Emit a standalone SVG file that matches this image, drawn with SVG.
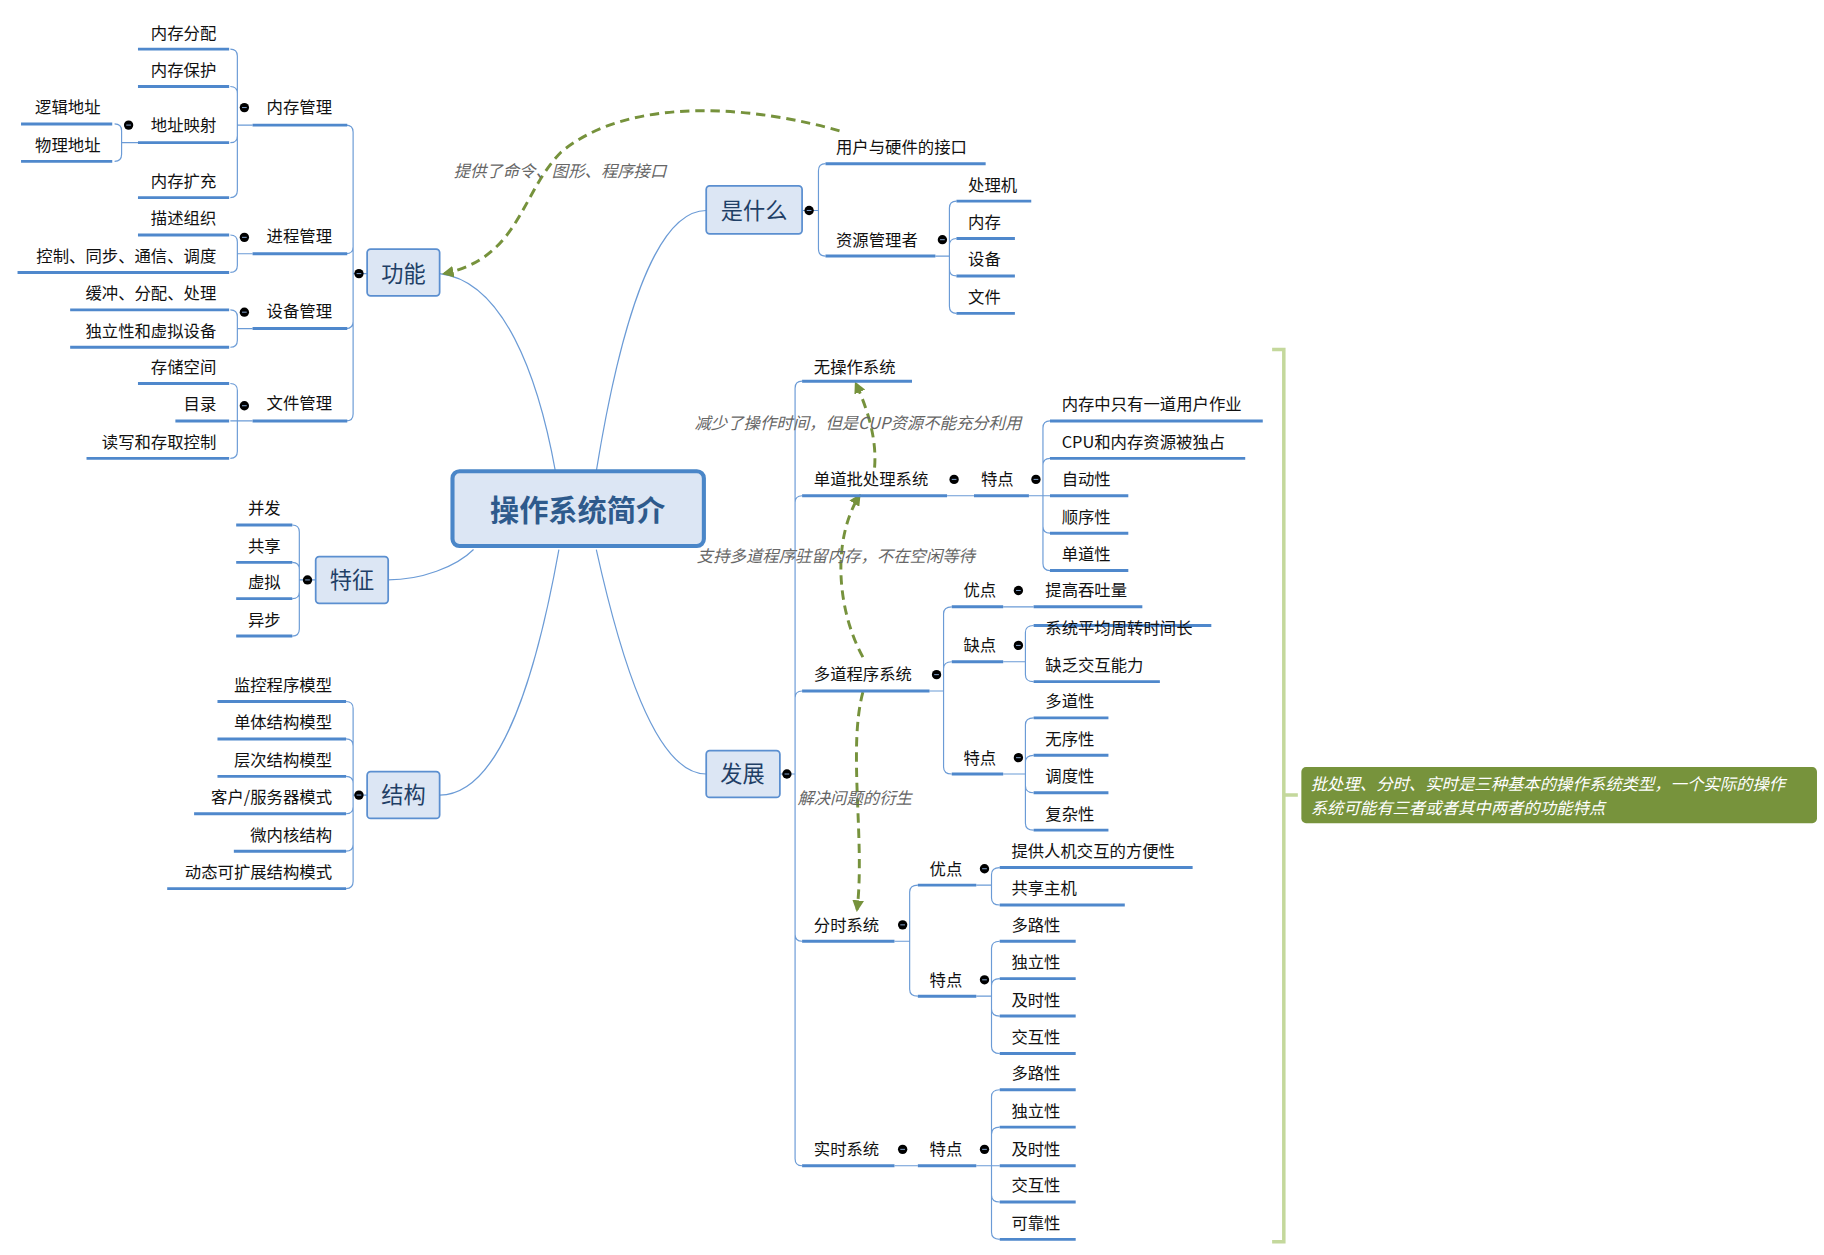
<svg xmlns="http://www.w3.org/2000/svg" width="1824" height="1255" viewBox="0 0 1824 1255">
<defs>
<style>
.c{fill:none;stroke:#6b9bd6;stroke-width:1}
.u{stroke:#4f88cc;stroke-width:2.5}
.t{font-family:"Noto Sans CJK SC","Noto Sans",sans-serif;font-size:14px;fill:#111}
.r{text-anchor:end}
.b rect{fill:#dce6f4;stroke:#5b8fd0;stroke-width:1.5}
.b text{font-family:"Noto Sans CJK SC",sans-serif;font-size:19px;fill:#1f3f66;text-anchor:middle}
.o circle{fill:#fff;stroke:#8fb0dc;stroke-width:0.8}
.d{fill:none;stroke:#76923c;stroke-width:2.5;stroke-dasharray:8,5}
.l{font-family:"Noto Sans CJK SC",sans-serif;font-size:14px;fill:#666;font-style:italic}
</style>
<marker id="a" viewBox="0 0 10 10" refX="8" refY="5" markerWidth="4" markerHeight="4" orient="auto"><path d="M0,0 L10,5 L0,10 z" fill="#76923c"/></marker>
<g id="m"><circle r="4"/><line x1="-2" x2="2" stroke="#8fb0dc" stroke-width="0.8"/></g>
</defs>
<rect width="1824" height="1255" fill="#fff"/>
<g transform="scale(1.16923)">
<g id="connectors" class="c">
<path d="M475,403 C460,320 430,240 376,234"/>
<path d="M510,403 C530,280 560,180 604,180"/>
<path d="M405,470 C390,485 360,496 332,496"/>
<path d="M478,470 C460,570 430,680 376,680"/>
<path d="M510,470 C530,560 560,662 604,662"/>
<path d="M314,234 H302 V113 Q302,107 296,107 M302,234 V211 Q302,217 296,217 M302,234 V275 Q302,281 296,281 M302,234 V354 Q302,360 296,360"/>
<path d="M216,107 H203 V48 Q203,42 197,42 M203,107 V80 Q203,74 197,74 M203,107 V116 Q203,122 197,122 M203,107 V163 Q203,169 197,169"/>
<path d="M118,122 H104 V112 Q104,106 98,106 M104,122 V132 Q104,138 98,138"/>
<path d="M216,217 H203 V207 Q203,201 197,201 M203,217 V227 Q203,233 197,233"/>
<path d="M216,281 H203 V271 Q203,265 197,265 M203,281 V291 Q203,297 197,297"/>
<path d="M216,360 H197 M203,360 V334 Q203,328 197,328 M203,360 V386 Q203,392 197,392"/>
<path d="M270,496 H256 V455 Q256,449 250,449 M256,496 V487 Q256,481 250,481 M256,496 V506 Q256,512 250,512 M256,496 V538 Q256,544 250,544"/>
<path d="M314,680 H302 V606 Q302,600 296,600 M302,680 V638 Q302,632 296,632 M302,680 V670 Q302,664 296,664 M302,680 V690 Q302,696 296,696 M302,680 V722 Q302,728 296,728 M302,680 V754 Q302,760 296,760"/>
<path d="M686,180 H700 V146 Q700,140 706,140 M700,180 V213 Q700,219 706,219"/>
<path d="M800,219 H812 V178 Q812,172 818,172 M812,219 V210 Q812,204 818,204 M812,219 V230 Q812,236 818,236 M812,219 V262 Q812,268 818,268"/>
<path d="M667,662 H680 V332 Q680,326 686,326 M680,662 V430 Q680,424 686,424 M680,662 V597 Q680,591 686,591 M680,662 V799 Q680,805 686,805 M680,662 V991 Q680,997 686,997"/>
<path d="M810,424 H833 M880,424 H898 M892,424 V366 Q892,360 898,360 M892,424 V398 Q892,392 898,392 M892,424 V450 Q892,456 898,456 M892,424 V482 Q892,488 898,488"/>
<path d="M795,591 H807 V525 Q807,519 814,519 M807,591 V572 Q807,566 814,566 M807,591 V656 Q807,662 814,662"/>
<path d="M858,519 H884 M858,566 H877 V541 Q877,535 884,535 M877,566 V577 Q877,583 884,583"/>
<path d="M858,662 H877 V620 Q877,614 884,614 M877,662 V652 Q877,646 884,646 M877,662 V672 Q877,678 884,678 M877,662 V704 Q877,710 884,710"/>
<path d="M765,805 H778 V763 Q778,757 785,757 M778,805 V846 Q778,852 785,852"/>
<path d="M835,757 H848 V748 Q848,742 855,742 M848,757 V768 Q848,774 855,774"/>
<path d="M835,852 H848 V811 Q848,805 855,805 M848,852 V843 Q848,837 855,837 M848,852 V863 Q848,869 855,869 M848,852 V895 Q848,901 855,901"/>
<path d="M765,997 H785 M835,997 H855 M848,997 V938 Q848,932 855,932 M848,997 V970 Q848,964 855,964 M848,997 V1022 Q848,1028 855,1028 M848,997 V1054 Q848,1060 855,1060"/>
</g>
<g id="relations">
<path class="d" marker-end="url(#a)" d="M718,112 C650,92 540,80 480,130 C445,165 445,220 380,234"/>
<path class="d" marker-end="url(#a)" d="M748,400 C750,375 742,350 732,328"/>
<path class="d" marker-end="url(#a)" d="M738,562 C715,520 712,460 735,424"/>
<path class="d" marker-end="url(#a)" d="M738,592 C725,640 740,720 733,778"/>
<text class="l" x="388" y="151">提供了命令、图形、程序接口</text>
<text class="l" x="594" y="367">减少了操作时间，但是CUP资源不能充分利用</text>
<text class="l" x="596" y="481">支持多道程序驻留内存，不在空闲等待</text>
<text class="l" x="682" y="688">解决问题的衍生</text>
</g>
<g id="center"><rect x="387" y="403" width="215" height="64" rx="6" fill="#dce6f4" stroke="#4a86c8" stroke-width="3.5"/><text x="494" y="446" text-anchor="middle" font-family="Noto Sans CJK SC,sans-serif" font-size="25" font-weight="bold" fill="#2e5a8c">操作系统简介</text></g>
<g id="topics" class="b">
<g id="gongneng"><rect x="314" y="213" width="62" height="40" rx="3"/><text x="345" y="241">功能</text></g>
<g id="shishenme"><rect x="604" y="159" width="82" height="41" rx="3"/><text x="645" y="187">是什么</text></g>
<g id="tezheng"><rect x="270" y="476" width="62" height="40" rx="3"/><text x="301" y="503">特征</text></g>
<g id="jiegou"><rect x="314" y="660" width="62" height="40" rx="3"/><text x="345" y="687">结构</text></g>
<g id="fazhan"><rect x="604" y="642" width="63" height="40" rx="3"/><text x="635" y="669">发展</text></g>
</g>
<g id="underlines" class="u">
<path d="M216,107H297M216,217H297M216,281H297M216,360H297"/>
<path d="M118,42H196M118,74H196M118,122H196M118,169H196M18,106H96M18,138H96M118,201H196M15,233H196M60,265H196M60,297H196M118,328H196M150,360H196M74,392H196"/>
<path d="M202,449H250M202,481H250M202,512H250M202,544H250"/>
<path d="M186,600H296M186,632H296M186,664H296M166,696H296M200,728H296M143,760H296"/>
<path d="M706,140H843M706,219H800M818,172H882M818,204H868M818,236H868M818,268H868"/>
<path d="M686,326H780M686,424H810M833,424H880M898,360H1080M898,392H1065M898,424H965M898,456H965M898,488H965"/>
<path d="M686,591H795M814,519H858M884,519H977M814,566H858M884,535H1036M884,583H992M814,662H858M884,614H948M884,646H948M884,678H948M884,710H948"/>
<path d="M686,805H765M785,757H835M855,742H1020M855,774H962M785,852H835M855,805H920M855,837H920M855,869H920M855,901H920"/>
<path d="M686,997H765M785,997H835M855,932H920M855,964H920M855,997H920M855,1028H920M855,1060H920"/>
</g>
<g id="labels" class="t">
<g class="r">
<text x="284" y="97">内存管理</text><text x="284" y="207">进程管理</text><text x="284" y="271">设备管理</text><text x="284" y="350">文件管理</text>
<text x="185" y="33">内存分配</text><text x="185" y="65">内存保护</text><text x="185" y="112">地址映射</text><text x="185" y="160">内存扩充</text>
<text x="86" y="97">逻辑地址</text><text x="86" y="129">物理地址</text>
<text x="185" y="192">描述组织</text><text x="185" y="224">控制、同步、通信、调度</text>
<text x="185" y="256">缓冲、分配、处理</text><text x="185" y="288">独立性和虚拟设备</text>
<text x="185" y="319">存储空间</text><text x="185" y="351">目录</text><text x="185" y="383">读写和存取控制</text>
<text x="240" y="440">并发</text><text x="240" y="472">共享</text><text x="240" y="503">虚拟</text><text x="240" y="535">异步</text>
<text x="284" y="591">监控程序模型</text><text x="284" y="623">单体结构模型</text><text x="284" y="655">层次结构模型</text><text x="284" y="687">客户/服务器模式</text><text x="284" y="719">微内核结构</text><text x="284" y="751">动态可扩展结构模式</text>
</g>
<text x="715" y="131">用户与硬件的接口</text><text x="715" y="210">资源管理者</text>
<text x="828" y="163">处理机</text><text x="828" y="195">内存</text><text x="828" y="227">设备</text><text x="828" y="259">文件</text>
<text x="696" y="319">无操作系统</text><text x="696" y="415">单道批处理系统</text><text x="839" y="415">特点</text>
<text x="908" y="351">内存中只有一道用户作业</text><text x="908" y="383">CPU和内存资源被独占</text><text x="908" y="415">自动性</text><text x="908" y="447">顺序性</text><text x="908" y="479">单道性</text>
<text x="696" y="582">多道程序系统</text><text x="824" y="510">优点</text><text x="894" y="510">提高吞吐量</text><text x="824" y="557">缺点</text><text x="894" y="542">系统平均周转时间长</text><text x="894" y="574">缺乏交互能力</text>
<text x="824" y="653">特点</text><text x="894" y="605">多道性</text><text x="894" y="637">无序性</text><text x="894" y="669">调度性</text><text x="894" y="701">复杂性</text>
<text x="696" y="796">分时系统</text><text x="795" y="748">优点</text><text x="865" y="733">提供人机交互的方便性</text><text x="865" y="765">共享主机</text>
<text x="795" y="843">特点</text><text x="865" y="796">多路性</text><text x="865" y="828">独立性</text><text x="865" y="860">及时性</text><text x="865" y="892">交互性</text>
<text x="696" y="988">实时系统</text><text x="795" y="988">特点</text><text x="865" y="923">多路性</text><text x="865" y="955">独立性</text><text x="865" y="988">及时性</text><text x="865" y="1019">交互性</text><text x="865" y="1051">可靠性</text>
</g>
<g id="collapse" class="o">
<use href="#m" x="307" y="234"/><use href="#m" x="209" y="92"/><use href="#m" x="110" y="107"/><use href="#m" x="209" y="203"/><use href="#m" x="209" y="267"/><use href="#m" x="209" y="347"/><use href="#m" x="263" y="496"/><use href="#m" x="307" y="680"/>
<use href="#m" x="692" y="180"/><use href="#m" x="806" y="205"/><use href="#m" x="673" y="662"/><use href="#m" x="816" y="410"/><use href="#m" x="886" y="410"/><use href="#m" x="801" y="577"/><use href="#m" x="871" y="505"/><use href="#m" x="871" y="552"/><use href="#m" x="871" y="648"/><use href="#m" x="772" y="791"/><use href="#m" x="842" y="743"/><use href="#m" x="842" y="838"/><use href="#m" x="772" y="983"/><use href="#m" x="842" y="983"/>
</g>
<g id="summary">
<path d="M1088,299 H1098 V1062 H1088 M1098,680 H1110" fill="none" stroke="#c4d89c" stroke-width="3"/>
<rect x="1113" y="656" width="441" height="48" rx="4" fill="#77933c"/>
<text x="1121" y="676" font-family="Noto Sans CJK SC,sans-serif" font-size="14" font-style="italic" fill="#fff">批处理、分时、实时是三种基本的操作系统类型，一个实际的操作</text>
<text x="1121" y="696" font-family="Noto Sans CJK SC,sans-serif" font-size="14" font-style="italic" fill="#fff">系统可能有三者或者其中两者的功能特点</text>
</g>
</g>
</svg>
